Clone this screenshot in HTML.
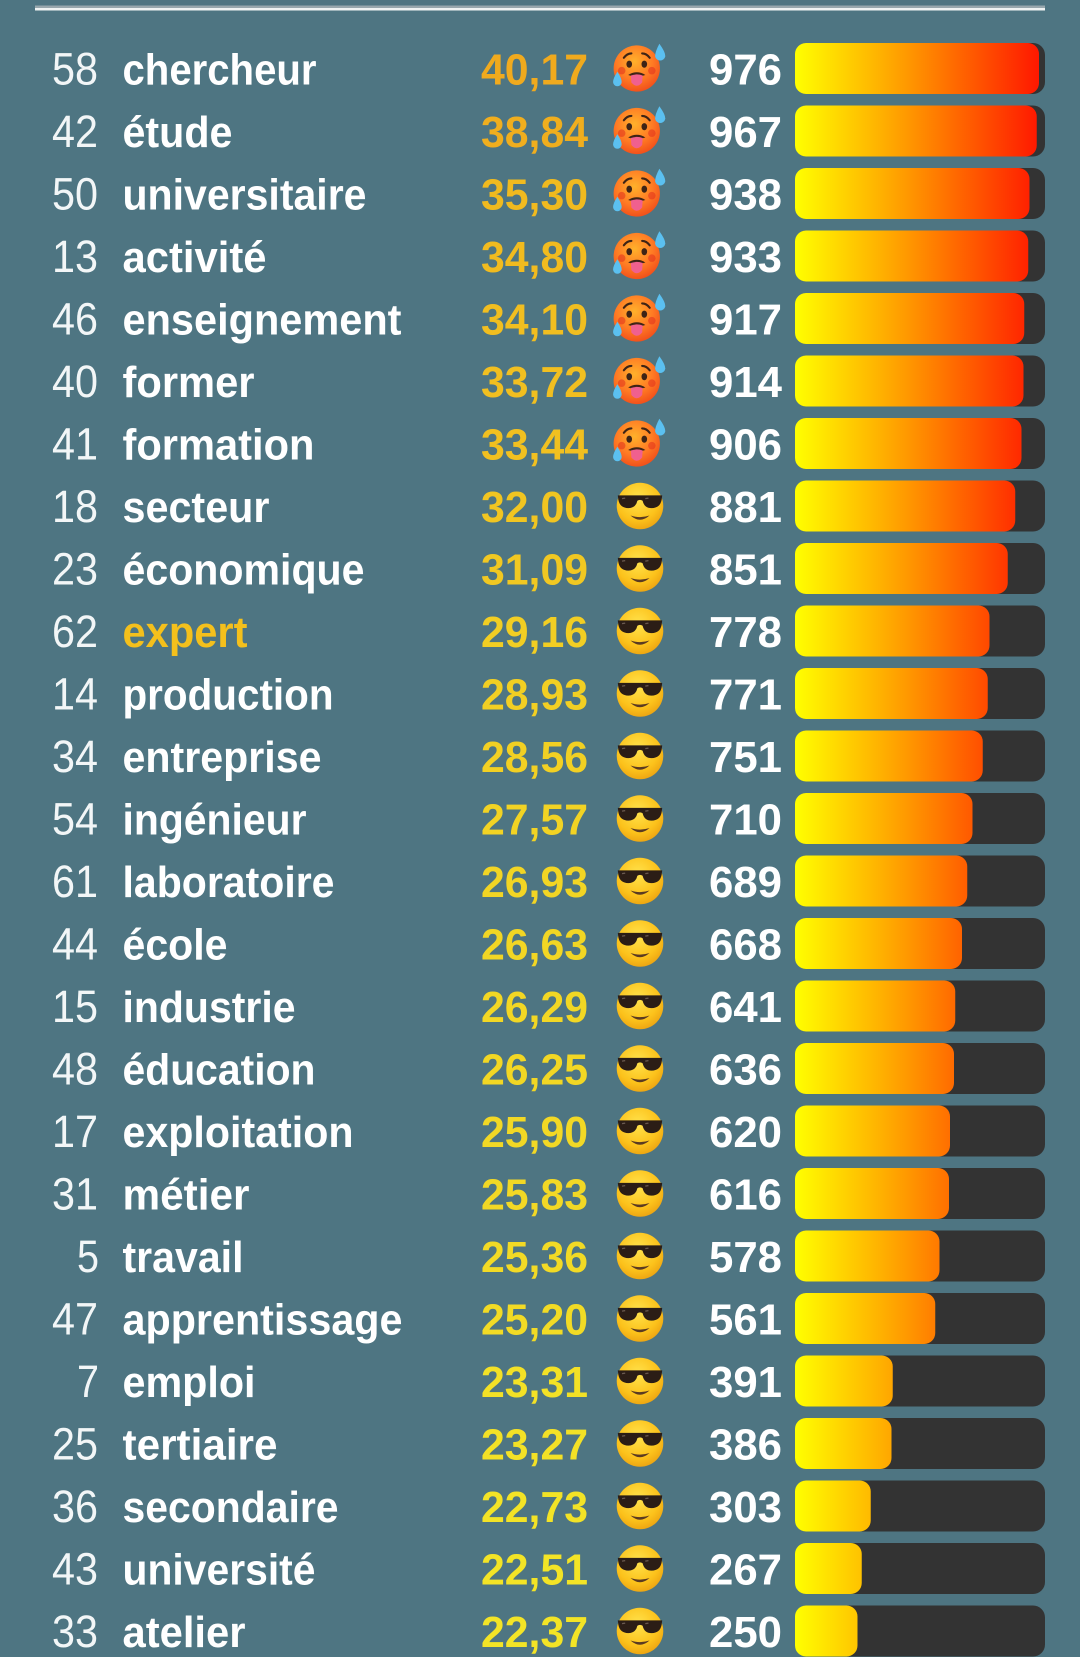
<!DOCTYPE html>
<html>
<head>
<meta charset="utf-8">
<style>
  html,body{margin:0;padding:0;background:#4e7582;}
  body{width:1080px;height:1657px;overflow:hidden;}
  svg{display:block;}
  .rk{font-family:"Liberation Sans",sans-serif;font-size:45px;fill:#f2f6f7;font-weight:normal;}
  .wd{font-family:"Liberation Sans",sans-serif;font-size:44px;fill:#ffffff;font-weight:bold;}
  .vl{font-family:"Liberation Sans",sans-serif;font-size:44px;font-weight:bold;}
  .ct{font-family:"Liberation Sans",sans-serif;font-size:44px;fill:#ffffff;font-weight:bold;}
</style>
</head>
<body>
<svg width="1080" height="1657" viewBox="0 0 1080 1657" xmlns="http://www.w3.org/2000/svg">
<defs>
  <linearGradient id="bar" gradientUnits="userSpaceOnUse" x1="795" y1="0" x2="1045" y2="0">
    <stop offset="0" stop-color="#ffff00"/>
    <stop offset="0.45" stop-color="#ff9800"/>
    <stop offset="1" stop-color="#ff1200"/>
  </linearGradient>
  <radialGradient id="hotg" cx="0.45" cy="0.35" r="0.65">
    <stop offset="0" stop-color="#ffb12b"/>
    <stop offset="0.6" stop-color="#ff7b24"/>
    <stop offset="1" stop-color="#f2511b"/>
  </radialGradient>
  <radialGradient id="coolg" cx="0.45" cy="0.35" r="0.65">
    <stop offset="0" stop-color="#ffe34d"/>
    <stop offset="0.7" stop-color="#fcc21b"/>
    <stop offset="1" stop-color="#eea713"/>
  </radialGradient>
  <symbol id="hot" viewBox="0 0 52 50">
    <circle cx="23" cy="25" r="21.5" fill="url(#hotg)"/>
    <path d="M11 15 Q14 11 18 11" stroke="#3e2416" stroke-width="2" fill="none" stroke-linecap="round"/>
    <path d="M28 11 Q32 11 35 15" stroke="#3e2416" stroke-width="2" fill="none" stroke-linecap="round"/>
    <ellipse cx="16" cy="21" rx="2.6" ry="3.3" fill="#3e2416"/>
    <ellipse cx="30" cy="21" rx="2.6" ry="3.3" fill="#3e2416"/>
    <circle cx="9" cy="27" r="3.5" fill="#e0301e" opacity="0.55"/>
    <circle cx="37" cy="27" r="3.5" fill="#e0301e" opacity="0.55"/>
    <path d="M15 31 Q23 26 31 31 Q23 34 15 31Z" fill="#3e2416"/>
    <path d="M17.5 31.5 Q23 29.5 28.5 31.5 L28 38 Q23 44 18 38Z" fill="#f0608e"/>
    <path d="M44 2 Q49.5 9.5 49.5 13.5 A4.8 4.8 0 0 1 40 13.5 Q40 9.5 44 2Z" fill="#5bc0f0"/>
    <path d="M5 28 Q9 34 9 37.5 A4 4 0 0 1 1 37.5 Q1 34 5 28Z" fill="#5bc0f0"/>
  </symbol>
  <symbol id="cool" viewBox="0 0 52 50">
    <circle cx="26" cy="25" r="22" fill="url(#coolg)"/>
    <path d="M5 15 L47 15 L46.5 19 Q45 27 37 27 Q30 27 28.5 20 Q26 18.5 23.5 20 Q22 27 15 27 Q7 27 5.5 19Z" fill="#2b1d16"/>
    <path d="M9 18 L12 17.5" stroke="#6b5a50" stroke-width="1.2"/>
    <path d="M31 18 L34 17.5" stroke="#6b5a50" stroke-width="1.2"/>
    <path d="M17 34 Q26 42 35 34 Q26 37 17 34Z" fill="#5a3a22"/>
  </symbol>
</defs>

<rect x="35" y="5.5" width="1010" height="2.5" fill="#97a7ad"/>
<rect x="35" y="8" width="1010" height="2.5" fill="#eef3f3"/>

<!-- Row 0 -->
<text class="rk" x="52" y="84.3" textLength="46" lengthAdjust="spacingAndGlyphs">58</text>
<text class="wd" x="122.5" y="84.3" textLength="194" lengthAdjust="spacingAndGlyphs">chercheur</text>
<text class="vl" x="481" y="84.3" fill="#f0aa1e" textLength="107" lengthAdjust="spacingAndGlyphs">40,17</text>
<use href="#hot" x="612" y="41.5" width="56" height="54"/>
<text class="ct" x="709" y="84.3" textLength="73" lengthAdjust="spacingAndGlyphs">976</text>
<rect x="795" y="43" width="250" height="51" rx="12" fill="#333333"/>
<rect x="795" y="43" width="244" height="51" rx="11" fill="url(#bar)"/>

<!-- Row 1 -->
<text class="rk" x="52" y="146.8" textLength="46" lengthAdjust="spacingAndGlyphs">42</text>
<text class="wd" x="122.5" y="146.8" textLength="110" lengthAdjust="spacingAndGlyphs">étude</text>
<text class="vl" x="481" y="146.8" fill="#f0ae1e" textLength="107" lengthAdjust="spacingAndGlyphs">38,84</text>
<use href="#hot" x="612" y="104" width="56" height="54"/>
<text class="ct" x="709" y="146.8" textLength="73" lengthAdjust="spacingAndGlyphs">967</text>
<rect x="795" y="105.5" width="250" height="51" rx="12" fill="#333333"/>
<rect x="795" y="105.5" width="241.75" height="51" rx="11" fill="url(#bar)"/>

<!-- Row 2 -->
<text class="rk" x="52" y="209.3" textLength="46" lengthAdjust="spacingAndGlyphs">50</text>
<text class="wd" x="122.5" y="209.3" textLength="244" lengthAdjust="spacingAndGlyphs">universitaire</text>
<text class="vl" x="481" y="209.3" fill="#f0ba1f" textLength="107" lengthAdjust="spacingAndGlyphs">35,30</text>
<use href="#hot" x="612" y="166.5" width="56" height="54"/>
<text class="ct" x="709" y="209.3" textLength="73" lengthAdjust="spacingAndGlyphs">938</text>
<rect x="795" y="168" width="250" height="51" rx="12" fill="#333333"/>
<rect x="795" y="168" width="234.5" height="51" rx="11" fill="url(#bar)"/>

<!-- Row 3 -->
<text class="rk" x="52" y="271.8" textLength="46" lengthAdjust="spacingAndGlyphs">13</text>
<text class="wd" x="122.5" y="271.8" textLength="144" lengthAdjust="spacingAndGlyphs">activité</text>
<text class="vl" x="481" y="271.8" fill="#f1bb1f" textLength="107" lengthAdjust="spacingAndGlyphs">34,80</text>
<use href="#hot" x="612" y="229" width="56" height="54"/>
<text class="ct" x="709" y="271.8" textLength="73" lengthAdjust="spacingAndGlyphs">933</text>
<rect x="795" y="230.5" width="250" height="51" rx="12" fill="#333333"/>
<rect x="795" y="230.5" width="233.25" height="51" rx="11" fill="url(#bar)"/>

<!-- Row 4 -->
<text class="rk" x="52" y="334.3" textLength="46" lengthAdjust="spacingAndGlyphs">46</text>
<text class="wd" x="122.5" y="334.3" textLength="279" lengthAdjust="spacingAndGlyphs">enseignement</text>
<text class="vl" x="481" y="334.3" fill="#f1be20" textLength="107" lengthAdjust="spacingAndGlyphs">34,10</text>
<use href="#hot" x="612" y="291.5" width="56" height="54"/>
<text class="ct" x="709" y="334.3" textLength="73" lengthAdjust="spacingAndGlyphs">917</text>
<rect x="795" y="293" width="250" height="51" rx="12" fill="#333333"/>
<rect x="795" y="293" width="229.25" height="51" rx="11" fill="url(#bar)"/>

<!-- Row 5 -->
<text class="rk" x="52" y="396.8" textLength="46" lengthAdjust="spacingAndGlyphs">40</text>
<text class="wd" x="122.5" y="396.8" textLength="132" lengthAdjust="spacingAndGlyphs">former</text>
<text class="vl" x="481" y="396.8" fill="#f1bf20" textLength="107" lengthAdjust="spacingAndGlyphs">33,72</text>
<use href="#hot" x="612" y="354" width="56" height="54"/>
<text class="ct" x="709" y="396.8" textLength="73" lengthAdjust="spacingAndGlyphs">914</text>
<rect x="795" y="355.5" width="250" height="51" rx="12" fill="#333333"/>
<rect x="795" y="355.5" width="228.5" height="51" rx="11" fill="url(#bar)"/>

<!-- Row 6 -->
<text class="rk" x="52" y="459.3" textLength="46" lengthAdjust="spacingAndGlyphs">41</text>
<text class="wd" x="122.5" y="459.3" textLength="192" lengthAdjust="spacingAndGlyphs">formation</text>
<text class="vl" x="481" y="459.3" fill="#f1c020" textLength="107" lengthAdjust="spacingAndGlyphs">33,44</text>
<use href="#hot" x="612" y="416.5" width="56" height="54"/>
<text class="ct" x="709" y="459.3" textLength="73" lengthAdjust="spacingAndGlyphs">906</text>
<rect x="795" y="418" width="250" height="51" rx="12" fill="#333333"/>
<rect x="795" y="418" width="226.5" height="51" rx="11" fill="url(#bar)"/>

<!-- Row 7 -->
<text class="rk" x="52" y="521.8" textLength="46" lengthAdjust="spacingAndGlyphs">18</text>
<text class="wd" x="122.5" y="521.8" textLength="147" lengthAdjust="spacingAndGlyphs">secteur</text>
<text class="vl" x="481" y="521.8" fill="#f1c521" textLength="107" lengthAdjust="spacingAndGlyphs">32,00</text>
<use href="#cool" x="612.5" y="479.5" width="55" height="53"/>
<text class="ct" x="709" y="521.8" textLength="73" lengthAdjust="spacingAndGlyphs">881</text>
<rect x="795" y="480.5" width="250" height="51" rx="12" fill="#333333"/>
<rect x="795" y="480.5" width="220.25" height="51" rx="11" fill="url(#bar)"/>

<!-- Row 8 -->
<text class="rk" x="52" y="584.3" textLength="46" lengthAdjust="spacingAndGlyphs">23</text>
<text class="wd" x="122.5" y="584.3" textLength="242" lengthAdjust="spacingAndGlyphs">économique</text>
<text class="vl" x="481" y="584.3" fill="#f1c822" textLength="107" lengthAdjust="spacingAndGlyphs">31,09</text>
<use href="#cool" x="612.5" y="542" width="55" height="53"/>
<text class="ct" x="709" y="584.3" textLength="73" lengthAdjust="spacingAndGlyphs">851</text>
<rect x="795" y="543" width="250" height="51" rx="12" fill="#333333"/>
<rect x="795" y="543" width="212.75" height="51" rx="11" fill="url(#bar)"/>

<!-- Row 9 -->
<text class="rk" x="52" y="646.8" textLength="46" lengthAdjust="spacingAndGlyphs">62</text>
<text class="wd" x="122.5" y="646.8" textLength="125" lengthAdjust="spacingAndGlyphs" style="fill:#f4c01c">expert</text>
<text class="vl" x="481" y="646.8" fill="#f2ce23" textLength="107" lengthAdjust="spacingAndGlyphs">29,16</text>
<use href="#cool" x="612.5" y="604.5" width="55" height="53"/>
<text class="ct" x="709" y="646.8" textLength="73" lengthAdjust="spacingAndGlyphs">778</text>
<rect x="795" y="605.5" width="250" height="51" rx="12" fill="#333333"/>
<rect x="795" y="605.5" width="194.5" height="51" rx="11" fill="url(#bar)"/>

<!-- Row 10 -->
<text class="rk" x="52" y="709.3" textLength="46" lengthAdjust="spacingAndGlyphs">14</text>
<text class="wd" x="122.5" y="709.3" textLength="211" lengthAdjust="spacingAndGlyphs">production</text>
<text class="vl" x="481" y="709.3" fill="#f2cf23" textLength="107" lengthAdjust="spacingAndGlyphs">28,93</text>
<use href="#cool" x="612.5" y="667" width="55" height="53"/>
<text class="ct" x="709" y="709.3" textLength="73" lengthAdjust="spacingAndGlyphs">771</text>
<rect x="795" y="668" width="250" height="51" rx="12" fill="#333333"/>
<rect x="795" y="668" width="192.75" height="51" rx="11" fill="url(#bar)"/>

<!-- Row 11 -->
<text class="rk" x="52" y="771.8" textLength="46" lengthAdjust="spacingAndGlyphs">34</text>
<text class="wd" x="122.5" y="771.8" textLength="199" lengthAdjust="spacingAndGlyphs">entreprise</text>
<text class="vl" x="481" y="771.8" fill="#f2d023" textLength="107" lengthAdjust="spacingAndGlyphs">28,56</text>
<use href="#cool" x="612.5" y="729.5" width="55" height="53"/>
<text class="ct" x="709" y="771.8" textLength="73" lengthAdjust="spacingAndGlyphs">751</text>
<rect x="795" y="730.5" width="250" height="51" rx="12" fill="#333333"/>
<rect x="795" y="730.5" width="187.75" height="51" rx="11" fill="url(#bar)"/>

<!-- Row 12 -->
<text class="rk" x="52" y="834.3" textLength="46" lengthAdjust="spacingAndGlyphs">54</text>
<text class="wd" x="122.5" y="834.3" textLength="184" lengthAdjust="spacingAndGlyphs">ingénieur</text>
<text class="vl" x="481" y="834.3" fill="#f2d324" textLength="107" lengthAdjust="spacingAndGlyphs">27,57</text>
<use href="#cool" x="612.5" y="792" width="55" height="53"/>
<text class="ct" x="709" y="834.3" textLength="73" lengthAdjust="spacingAndGlyphs">710</text>
<rect x="795" y="793" width="250" height="51" rx="12" fill="#333333"/>
<rect x="795" y="793" width="177.5" height="51" rx="11" fill="url(#bar)"/>

<!-- Row 13 -->
<text class="rk" x="52" y="896.8" textLength="46" lengthAdjust="spacingAndGlyphs">61</text>
<text class="wd" x="122.5" y="896.8" textLength="212" lengthAdjust="spacingAndGlyphs">laboratoire</text>
<text class="vl" x="481" y="896.8" fill="#f2d524" textLength="107" lengthAdjust="spacingAndGlyphs">26,93</text>
<use href="#cool" x="612.5" y="854.5" width="55" height="53"/>
<text class="ct" x="709" y="896.8" textLength="73" lengthAdjust="spacingAndGlyphs">689</text>
<rect x="795" y="855.5" width="250" height="51" rx="12" fill="#333333"/>
<rect x="795" y="855.5" width="172.25" height="51" rx="11" fill="url(#bar)"/>

<!-- Row 14 -->
<text class="rk" x="52" y="959.3" textLength="46" lengthAdjust="spacingAndGlyphs">44</text>
<text class="wd" x="122.5" y="959.3" textLength="105" lengthAdjust="spacingAndGlyphs">école</text>
<text class="vl" x="481" y="959.3" fill="#f2d624" textLength="107" lengthAdjust="spacingAndGlyphs">26,63</text>
<use href="#cool" x="612.5" y="917" width="55" height="53"/>
<text class="ct" x="709" y="959.3" textLength="73" lengthAdjust="spacingAndGlyphs">668</text>
<rect x="795" y="918" width="250" height="51" rx="12" fill="#333333"/>
<rect x="795" y="918" width="167" height="51" rx="11" fill="url(#bar)"/>

<!-- Row 15 -->
<text class="rk" x="52" y="1021.8" textLength="46" lengthAdjust="spacingAndGlyphs">15</text>
<text class="wd" x="122.5" y="1021.8" textLength="173" lengthAdjust="spacingAndGlyphs">industrie</text>
<text class="vl" x="481" y="1021.8" fill="#f2d724" textLength="107" lengthAdjust="spacingAndGlyphs">26,29</text>
<use href="#cool" x="612.5" y="979.5" width="55" height="53"/>
<text class="ct" x="709" y="1021.8" textLength="73" lengthAdjust="spacingAndGlyphs">641</text>
<rect x="795" y="980.5" width="250" height="51" rx="12" fill="#333333"/>
<rect x="795" y="980.5" width="160.25" height="51" rx="11" fill="url(#bar)"/>

<!-- Row 16 -->
<text class="rk" x="52" y="1084.3" textLength="46" lengthAdjust="spacingAndGlyphs">48</text>
<text class="wd" x="122.5" y="1084.3" textLength="193" lengthAdjust="spacingAndGlyphs">éducation</text>
<text class="vl" x="481" y="1084.3" fill="#f2d724" textLength="107" lengthAdjust="spacingAndGlyphs">26,25</text>
<use href="#cool" x="612.5" y="1042" width="55" height="53"/>
<text class="ct" x="709" y="1084.3" textLength="73" lengthAdjust="spacingAndGlyphs">636</text>
<rect x="795" y="1043" width="250" height="51" rx="12" fill="#333333"/>
<rect x="795" y="1043" width="159" height="51" rx="11" fill="url(#bar)"/>

<!-- Row 17 -->
<text class="rk" x="52" y="1146.8" textLength="46" lengthAdjust="spacingAndGlyphs">17</text>
<text class="wd" x="122.5" y="1146.8" textLength="231" lengthAdjust="spacingAndGlyphs">exploitation</text>
<text class="vl" x="481" y="1146.8" fill="#f2d825" textLength="107" lengthAdjust="spacingAndGlyphs">25,90</text>
<use href="#cool" x="612.5" y="1104.5" width="55" height="53"/>
<text class="ct" x="709" y="1146.8" textLength="73" lengthAdjust="spacingAndGlyphs">620</text>
<rect x="795" y="1105.5" width="250" height="51" rx="12" fill="#333333"/>
<rect x="795" y="1105.5" width="155" height="51" rx="11" fill="url(#bar)"/>

<!-- Row 18 -->
<text class="rk" x="52" y="1209.3" textLength="46" lengthAdjust="spacingAndGlyphs">31</text>
<text class="wd" x="122.5" y="1209.3" textLength="127" lengthAdjust="spacingAndGlyphs">métier</text>
<text class="vl" x="481" y="1209.3" fill="#f2d825" textLength="107" lengthAdjust="spacingAndGlyphs">25,83</text>
<use href="#cool" x="612.5" y="1167" width="55" height="53"/>
<text class="ct" x="709" y="1209.3" textLength="73" lengthAdjust="spacingAndGlyphs">616</text>
<rect x="795" y="1168" width="250" height="51" rx="12" fill="#333333"/>
<rect x="795" y="1168" width="154" height="51" rx="11" fill="url(#bar)"/>

<!-- Row 19 -->
<text class="rk" x="77" y="1271.8" textLength="22" lengthAdjust="spacingAndGlyphs">5</text>
<text class="wd" x="122.5" y="1271.8" textLength="121" lengthAdjust="spacingAndGlyphs">travail</text>
<text class="vl" x="481" y="1271.8" fill="#f2da25" textLength="107" lengthAdjust="spacingAndGlyphs">25,36</text>
<use href="#cool" x="612.5" y="1229.5" width="55" height="53"/>
<text class="ct" x="709" y="1271.8" textLength="73" lengthAdjust="spacingAndGlyphs">578</text>
<rect x="795" y="1230.5" width="250" height="51" rx="12" fill="#333333"/>
<rect x="795" y="1230.5" width="144.5" height="51" rx="11" fill="url(#bar)"/>

<!-- Row 20 -->
<text class="rk" x="52" y="1334.3" textLength="46" lengthAdjust="spacingAndGlyphs">47</text>
<text class="wd" x="122.5" y="1334.3" textLength="280" lengthAdjust="spacingAndGlyphs">apprentissage</text>
<text class="vl" x="481" y="1334.3" fill="#f2db25" textLength="107" lengthAdjust="spacingAndGlyphs">25,20</text>
<use href="#cool" x="612.5" y="1292" width="55" height="53"/>
<text class="ct" x="709" y="1334.3" textLength="73" lengthAdjust="spacingAndGlyphs">561</text>
<rect x="795" y="1293" width="250" height="51" rx="12" fill="#333333"/>
<rect x="795" y="1293" width="140.25" height="51" rx="11" fill="url(#bar)"/>

<!-- Row 21 -->
<text class="rk" x="77" y="1396.8" textLength="22" lengthAdjust="spacingAndGlyphs">7</text>
<text class="wd" x="122.5" y="1396.8" textLength="133" lengthAdjust="spacingAndGlyphs">emploi</text>
<text class="vl" x="481" y="1396.8" fill="#f3e126" textLength="107" lengthAdjust="spacingAndGlyphs">23,31</text>
<use href="#cool" x="612.5" y="1354.5" width="55" height="53"/>
<text class="ct" x="709" y="1396.8" textLength="73" lengthAdjust="spacingAndGlyphs">391</text>
<rect x="795" y="1355.5" width="250" height="51" rx="12" fill="#333333"/>
<rect x="795" y="1355.5" width="97.75" height="51" rx="11" fill="url(#bar)"/>

<!-- Row 22 -->
<text class="rk" x="52" y="1459.3" textLength="46" lengthAdjust="spacingAndGlyphs">25</text>
<text class="wd" x="122.5" y="1459.3" textLength="155" lengthAdjust="spacingAndGlyphs">tertiaire</text>
<text class="vl" x="481" y="1459.3" fill="#f3e126" textLength="107" lengthAdjust="spacingAndGlyphs">23,27</text>
<use href="#cool" x="612.5" y="1417" width="55" height="53"/>
<text class="ct" x="709" y="1459.3" textLength="73" lengthAdjust="spacingAndGlyphs">386</text>
<rect x="795" y="1418" width="250" height="51" rx="12" fill="#333333"/>
<rect x="795" y="1418" width="96.5" height="51" rx="11" fill="url(#bar)"/>

<!-- Row 23 -->
<text class="rk" x="52" y="1521.8" textLength="46" lengthAdjust="spacingAndGlyphs">36</text>
<text class="wd" x="122.5" y="1521.8" textLength="216" lengthAdjust="spacingAndGlyphs">secondaire</text>
<text class="vl" x="481" y="1521.8" fill="#f3e326" textLength="107" lengthAdjust="spacingAndGlyphs">22,73</text>
<use href="#cool" x="612.5" y="1479.5" width="55" height="53"/>
<text class="ct" x="709" y="1521.8" textLength="73" lengthAdjust="spacingAndGlyphs">303</text>
<rect x="795" y="1480.5" width="250" height="51" rx="12" fill="#333333"/>
<rect x="795" y="1480.5" width="75.75" height="51" rx="11" fill="url(#bar)"/>

<!-- Row 24 -->
<text class="rk" x="52" y="1584.3" textLength="46" lengthAdjust="spacingAndGlyphs">43</text>
<text class="wd" x="122.5" y="1584.3" textLength="193" lengthAdjust="spacingAndGlyphs">université</text>
<text class="vl" x="481" y="1584.3" fill="#f3e426" textLength="107" lengthAdjust="spacingAndGlyphs">22,51</text>
<use href="#cool" x="612.5" y="1542" width="55" height="53"/>
<text class="ct" x="709" y="1584.3" textLength="73" lengthAdjust="spacingAndGlyphs">267</text>
<rect x="795" y="1543" width="250" height="51" rx="12" fill="#333333"/>
<rect x="795" y="1543" width="66.75" height="51" rx="11" fill="url(#bar)"/>

<!-- Row 25 -->
<text class="rk" x="52" y="1646.8" textLength="46" lengthAdjust="spacingAndGlyphs">33</text>
<text class="wd" x="122.5" y="1646.8" textLength="123" lengthAdjust="spacingAndGlyphs">atelier</text>
<text class="vl" x="481" y="1646.8" fill="#f3e426" textLength="107" lengthAdjust="spacingAndGlyphs">22,37</text>
<use href="#cool" x="612.5" y="1604.5" width="55" height="53"/>
<text class="ct" x="709" y="1646.8" textLength="73" lengthAdjust="spacingAndGlyphs">250</text>
<rect x="795" y="1605.5" width="250" height="51" rx="12" fill="#333333"/>
<rect x="795" y="1605.5" width="62.5" height="51" rx="11" fill="url(#bar)"/>
</svg>
</body>
</html>
